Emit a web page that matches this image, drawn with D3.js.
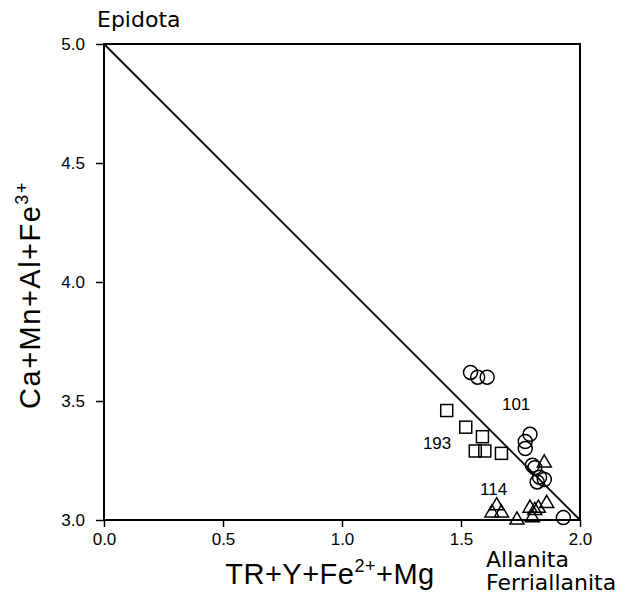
<!DOCTYPE html>
<html>
<head>
<meta charset="utf-8">
<script src="https://cdn.jsdelivr.net/npm/d3@7"></script>
<style>
  body { margin: 0; background: #fff; }
  text { font-family: "Liberation Sans", Arial, sans-serif; fill: #000; }
</style>
</head>
<body>
<svg id="chart" width="627" height="598"></svg>
<script>
// data
const xTicks = [0.0, 0.5, 1.0, 1.5, 2.0];
const yTicks = [3.0, 3.5, 4.0, 4.5, 5.0];

const circles = [
  [1.54, 3.62], [1.57, 3.60], [1.61, 3.60],
  [1.79, 3.36], [1.77, 3.33], [1.77, 3.30],
  [1.80, 3.23], [1.81, 3.22],
  [1.83, 3.18], [1.85, 3.17], [1.82, 3.16],
  [1.93, 3.01]
];
const squares = [
  [1.44, 3.46], [1.52, 3.39], [1.59, 3.35],
  [1.56, 3.29], [1.60, 3.29], [1.67, 3.28]
];
const triangles = [
  [1.85, 3.24], [1.65, 3.06], [1.63, 3.03], [1.67, 3.03],
  [1.735, 3.00], [1.79, 3.05], [1.81, 3.04], [1.80, 3.01],
  [1.86, 3.07], [1.825, 3.05]
];
const labels = [
  {t: "101", x: 1.672, y: 3.462},
  {t: "193", x: 1.34, y: 3.30},
  {t: "114", x: 1.58, y: 3.105}
];
const endLine = [[0, 5], [2, 3]];

const svg = d3.select("#chart");
const margin = {left: 104, top: 44, right: 47, bottom: 78};
const W = 627 - margin.left - margin.right,
      H = 598 - margin.top - margin.bottom;

const x = d3.scaleLinear().domain([0, 2]).range([0, W]);
const y = d3.scaleLinear().domain([3, 5]).range([H, 0]);

const g = svg.append("g").attr("transform", `translate(${margin.left},${margin.top})`);

// axes
let xAxis = g.append("g").attr("transform", `translate(0,${H})`)
  .call(d3.axisBottom(x).tickValues(xTicks).tickFormat(d3.format(".1f")).tickSize(7).tickPadding(6));
let yAxis = g.append("g")
  .call(d3.axisLeft(y).tickValues(yTicks).tickFormat(d3.format(".1f")).tickSize(8).tickPadding(11));
[xAxis, yAxis].forEach(a => {
  a.select(".domain").remove();
  a.selectAll("line").attr("stroke", "#000").attr("stroke-width", 1.5);
  a.selectAll("text").style("font-size", "17px").attr("fill", "#000");
});

// frame
g.append("rect").attr("width", W).attr("height", H)
  .attr("fill", "none").attr("stroke", "#000").attr("stroke-width", 2);

// diagonal
g.append("line")
  .attr("x1", x(endLine[0][0])).attr("y1", y(endLine[0][1]))
  .attr("x2", x(endLine[1][0])).attr("y2", y(endLine[1][1]))
  .attr("stroke", "#000").attr("stroke-width", 1.8);

// markers
g.selectAll(".circ").data(circles).enter().append("circle")
  .attr("cx", d => x(d[0])).attr("cy", d => y(d[1])).attr("r", 7)
  .attr("fill", "none").attr("stroke", "#000").attr("stroke-width", 1.5);

let sq = 12;
g.selectAll(".sq").data(squares).enter().append("rect")
  .attr("x", d => x(d[0]) - sq/2).attr("y", d => y(d[1]) - sq/2)
  .attr("width", sq).attr("height", sq)
  .attr("fill", "none").attr("stroke", "#000").attr("stroke-width", 1.5);

let tri = d3.symbol().type(d3.symbolTriangle).size(85);
g.selectAll(".tri").data(triangles).enter().append("path")
  .attr("d", tri)
  .attr("transform", d => `translate(${x(d[0])},${y(d[1])})`)
  .attr("fill", "none").attr("stroke", "#000").attr("stroke-width", 1.5);

g.selectAll(".lbl").data(labels).enter().append("text")
  .attr("x", d => x(d.x)).attr("y", d => y(d.y))
  .style("font-size", "17px").text(d => d.t);

// corner names
const cornerFont = "'DejaVu Sans', sans-serif";
svg.append("text").attr("x", 97).attr("y", 27).style("font-size", "22px")
  .style("font-family", cornerFont).text("Epidota");
svg.append("text").attr("x", 486).attr("y", 567).style("font-size", "22px")
  .style("font-family", cornerFont).text("Allanita");
svg.append("text").attr("x", 486).attr("y", 590).style("font-size", "22px")
  .style("font-family", cornerFont).text("Ferriallanita");

// axis titles
let xt = svg.append("text").attr("x", 330).attr("y", 584).attr("text-anchor", "middle")
  .style("font-size", "29px").style("letter-spacing", "0.5px");
xt.append("tspan").text("TR+Y+Fe");
xt.append("tspan").attr("dy", -12).style("font-size", "18px").text("2+");
xt.append("tspan").attr("dy", 12).text("+Mg");

let yt = svg.append("text").attr("transform", "translate(40,295) rotate(-90)")
  .attr("text-anchor", "middle").style("font-size", "29px").style("letter-spacing", "1.5px");
yt.append("tspan").text("Ca+Mn+Al+Fe");
yt.append("tspan").attr("dy", -12).style("font-size", "18px").text("3+");
</script>
</body>
</html>
